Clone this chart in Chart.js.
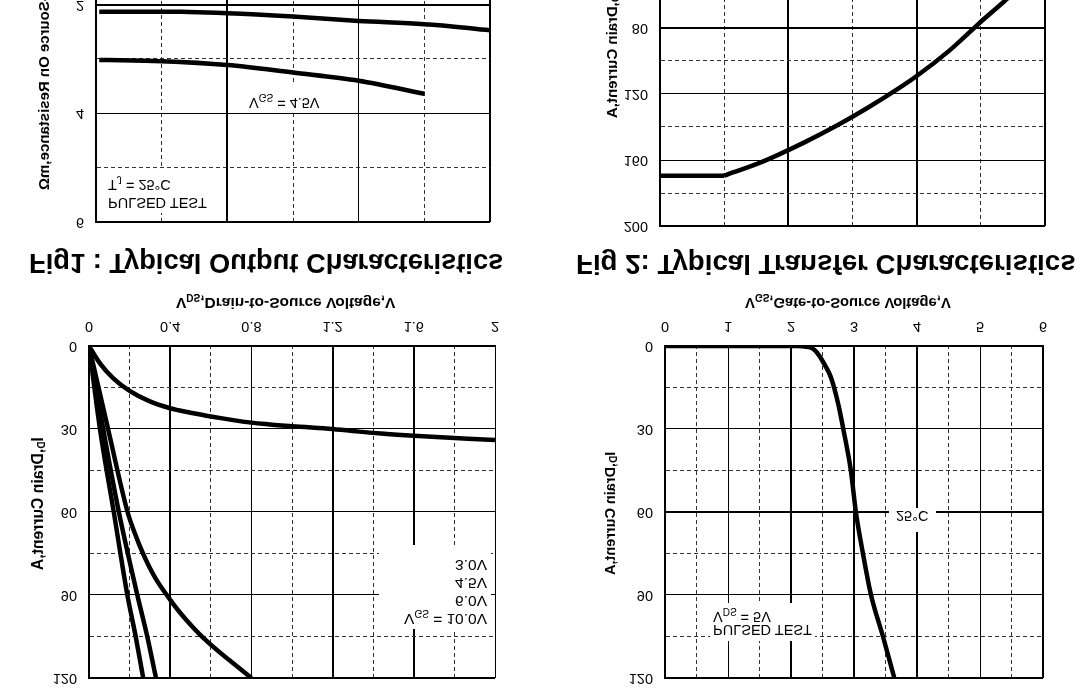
<!DOCTYPE html>
<html>
<head>
<meta charset="utf-8">
<script src="https://cdn.jsdelivr.net/npm/chart.js@4"></script>
<style>
  html, body { margin: 0; padding: 0; background: #fff; overflow: hidden; }
  /* the whole sheet is scanned upside down, so flip it once here */
  #sheet { position: absolute; left: 0; top: 0; width: 1085px; height: 692px; overflow: hidden;
           transform: scaleY(-1); font-family: "Liberation Sans", Arial, sans-serif; color: #000; }
  #sheet canvas { position: absolute; }
  .caption { position: absolute; font-weight: bold; white-space: nowrap; line-height: 30px; }
  .axis { position: absolute; font-size: 15px; font-weight: bold; white-space: nowrap; line-height: 16px; }
  .axis.v { writing-mode: vertical-rl; transform: rotate(180deg); }
  .note { position: absolute; background: #fff; font-size: 14.5px; white-space: nowrap; box-sizing: border-box; }
  sub { font-size: 10px; line-height: 0; }
</style>
</head>
<body>
<div id="sheet">
  <canvas id="fig1"></canvas>
  <canvas id="fig2"></canvas>
  <canvas id="fig3"></canvas>
  <canvas id="fig4"></canvas>

  <div class="caption" style="left:29px;top:414px;font-size:27.3px">Fig1 : Typical Output Characteristics</div>
  <div class="caption" style="left:576px;top:413px;font-size:27.7px">Fig 2: Typical Transfer Characteristics</div>

  <div class="axis" style="left:176px;top:381px;font-size:15.5px">V<sub>DS</sub>,Drain-to-Source Voltage,V</div>
  <div class="axis" style="left:745px;top:381px;font-size:14.8px">V<sub>GS</sub>,Gate-to-Source Voltage,V</div>
  <div class="axis v" style="left:30px;top:122px;font-size:15.7px">I<sub>D</sub>,Drain Current,A</div>
  <div class="axis v" style="left:602px;top:117px;font-size:14.5px">I<sub>D</sub>,Drain Current,A</div>
  <div class="axis v" style="left:36px;top:502px">R<sub>DS(on)</sub>,Drain-to-Source On Resistance,m&Omega;</div>
  <div class="axis v" style="left:604px;top:574px">I<sub>D</sub>,Drain Current,A</div>

  <div class="note" style="left:379px;top:63px;width:112px;height:84px;text-align:right;padding:1px 4px 0 0;line-height:18px;font-size:15.5px">
    V<sub>GS</sub> = 10.0V<br>6.0V<br>4.5V<br>3.0V</div>
  <div class="note" style="left:710px;top:51px;width:105px;height:38px;padding:5px 0 0 3px;line-height:13px">
    PULSED TEST<br>V<sub>DS</sub> = 5V</div>
  <div class="note" style="left:889px;top:160px;width:47px;height:24px;padding:8px 0 0 7px;line-height:16px">25&deg;C</div>
  <div class="note" style="left:247px;top:580px;width:73px;height:29px;padding:1px 0 0 2px;line-height:16px">V<sub>GS</sub> = 4.5V</div>
  <div class="note" style="left:105px;top:479px;width:109px;height:45px;padding:1px 0 0 3px;line-height:18px">
    PULSED TEST<br>T<sub>J</sub> = 25&deg;C</div>
</div>

<script>
// Fig 1 output curves
const vdsAt3V = [0, 0.054, 0.12, 0.2, 0.3, 0.4, 0.5, 0.6, 0.8, 1.0, 1.2, 1.4, 1.6, 2.0];
const idAt3V = [0, 6.3, 11.7, 16.2, 20, 22.5, 24.1, 25.5, 27.7, 29, 30, 31.4, 32.4, 34];
const vdsAt45V = [0, 0.094, 0.19, 0.23, 0.266, 0.32, 0.383, 0.45, 0.563, 0.8];
const idAt45V = [0, 30, 60, 68.5, 75, 83, 90, 96.5, 105.5, 120];
const vdsAt6V = [0, 0.07, 0.147, 0.238, 0.287, 0.33];
const idAt6V = [0, 30, 60, 90, 105, 120];
const vdsAt10V = [0, 0.054, 0.122, 0.189, 0.23, 0.267];
const idAt10V = [0, 30, 60, 90, 105, 120];
const fig1Ticks = ['0', '0.4', '0.8', '1.2', '1.6', '2'];

// Fig 2 transfer curve
const vgsTransfer = [0, 2.0, 2.3, 2.38, 2.46, 2.54, 2.62, 2.69, 2.76, 2.83, 2.95, 3.03, 3.15, 3.27, 3.46, 3.64];
const idTransfer = [0, 0, 0.5, 1.6, 3.9, 7, 10.5, 15.5, 22, 30, 45, 60, 76, 90, 105, 120];
const fig2Ticks = ['0', '1', '2', '3', '4', '5', '6'];

// Fig 3 on-resistance curves, x axis itself is cut off the scan
const idAt45Res = [1, 20, 40, 60, 80, 100];
const resAt45 = [3.02, 3.04, 3.11, 3.25, 3.40, 3.64];
const idAt10Res = [1, 20, 40, 60, 80, 100, 120];
const resAt10 = [2.13, 2.13, 2.16, 2.22, 2.30, 2.36, 2.47];

// Fig 4 curve, also cut off. flat run first, then the rise
const xFig4Flat = [0, 1];
const yFig4Flat = [169.5, 169.5];
const xFig4Rise = [1, 1.6, 2, 2.5, 3, 3.5, 4, 4.5, 5, 5.39, 5.5];
const yFig4Rise = [169.5, 161, 154, 144.4, 133.8, 122, 109.1, 94, 76.2, 63, 59];

const toPoints = (xs, ys) => xs.map((x, i) => ({ x: x, y: ys[i] }));

const curve = (xs, ys) => ({
  data: toPoints(xs, ys),
  borderColor: '#000',
  borderWidth: 4.5,
  pointRadius: 0,
  cubicInterpolationMode: 'monotone'
});

// every second grid line is solid, the ones between are dashed
const gridFor = (heavy) => ({
  drawTicks: false,
  color: (c) => c.index % 2 === 0 ? '#000' : '#333',
  lineWidth: (c) => c.index % 2 === 0 && heavy.includes(c.index) ? 2 : 1
});
const borderFor = () => ({
  display: true,
  color: '#000',
  width: 2,
  dash: (c) => c.index % 2 === 0 ? [] : [4, 3]
});

const LEFT = 50, TOP = 10, RIGHT = 20, BOTTOM = 24;

function draw(id, box, opts, datasets) {
  const el = document.getElementById(id);
  const w = LEFT + box.w + RIGHT;
  const h = TOP + box.h + BOTTOM;
  el.width = w;
  el.height = h;
  el.style.left = (box.x - LEFT) + 'px';
  el.style.top = (box.y - TOP) + 'px';
  el.style.width = w + 'px';
  el.style.height = h + 'px';
  new Chart(el, {
    type: 'line',
    data: { datasets: datasets },
    options: {
      responsive: false,
      animation: false,
      layout: { padding: { top: TOP, right: RIGHT, left: 0, bottom: 0 } },
      plugins: { legend: { display: false }, title: { display: false }, tooltip: { enabled: false } },
      scales: {
        x: {
          type: 'linear',
          min: opts.xMin, max: opts.xMax,
          // fixed box so the plot lands exactly where the scan has it
          afterFit: (s) => { s.height = BOTTOM; s.paddingLeft = 0; s.paddingRight = 0; },
          grid: gridFor(opts.heavyX),
          border: borderFor(),
          ticks: {
            display: !!opts.xLabels,
            stepSize: opts.xStep,
            padding: 11,
            maxRotation: 0,
            autoSkip: false,
            color: '#000',
            font: { family: 'Liberation Sans', size: 14.5 },
            callback: (v, i) => (i % 2 === 0 && opts.xLabels) ? opts.xLabels[i / 2] : ''
          }
        },
        y: {
          min: opts.yMin, max: opts.yMax,
          afterFit: (s) => { s.width = LEFT; s.paddingTop = 0; s.paddingBottom = 0; },
          grid: gridFor(opts.heavyY),
          border: borderFor(),
          ticks: {
            stepSize: opts.yStep,
            padding: 12,
            autoSkip: false,
            color: '#000',
            font: { family: 'Liberation Sans', size: 14.5 },
            callback: (v, i) => i % 2 === 0 ? String(v) : ''
          }
        }
      }
    }
  });
}

draw('fig1', { x: 89, y: 14, w: 406, h: 332 },
  { xMin: 0, xMax: 2, xStep: 0.2, yMin: 0, yMax: 120, yStep: 15, xLabels: fig1Ticks, heavyX: [2, 6, 8], heavyY: [8] },
  [curve(vdsAt3V, idAt3V), curve(vdsAt45V, idAt45V), curve(vdsAt6V, idAt6V), curve(vdsAt10V, idAt10V)]);

draw('fig2', { x: 665, y: 14, w: 378, h: 332 },
  { xMin: 0, xMax: 6, xStep: 0.5, yMin: 0, yMax: 120, yStep: 15, xLabels: fig2Ticks, heavyX: [0, 4, 6, 8, 12], heavyY: [0, 4, 8] },
  [curve(vgsTransfer, idTransfer)]);

draw('fig3', { x: 96, y: 470, w: 394, h: 326 },
  { xMin: 0, xMax: 120, xStep: 20, yMin: 0, yMax: 6, yStep: 1, heavyX: [0, 2, 6], heavyY: [2, 6] },
  [curve(idAt45Res, resAt45), curve(idAt10Res, resAt10)]);

draw('fig4', { x: 660, y: 466, w: 385, h: 330 },
  { xMin: 0, xMax: 6, xStep: 1, yMin: 0, yMax: 200, yStep: 20, heavyX: [0, 2, 4, 6], heavyY: [4, 10] },
  [curve(xFig4Flat, yFig4Flat), curve(xFig4Rise, yFig4Rise)]);
</script>
</body>
</html>
